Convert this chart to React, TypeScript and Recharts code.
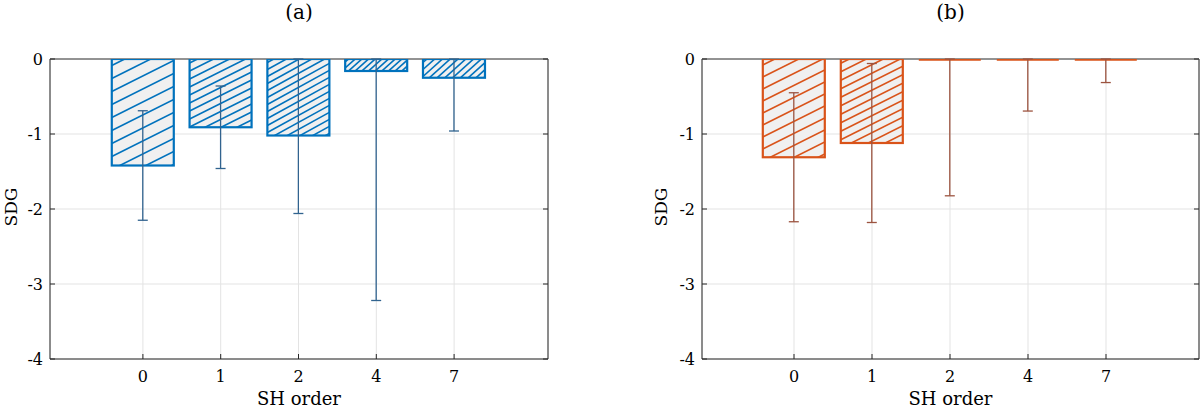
import React from 'react';
import { BarChart, Bar, XAxis, YAxis, CartesianGrid, ErrorBar } from 'recharts';

// ---- data ----
const categories = ['0', '1', '2', '4', '7'];
const sdgA = [-1.42, -0.91, -1.02, -0.16, -0.25];
const errA = [0.73, 0.55, 1.04, 3.06, 0.71];
const sdgB = [-1.31, -1.12, -0.004, -0.004, -0.004];
const errB = [0.86, 1.06, 1.82, 0.69, 0.31];
const yTicks = [-4, -3, -2, -1, 0];

// ---- styles ----
const FONT = "'DejaVu Serif', serif";
const AXIS = '#262626';
const GRID = '#e3e3e3';
const hatchA = { spacing: [13, 8, 7, 6, 7], slope: [0.5, 0.5, 0.55, 0.9, 0.9] };
const hatchB = { spacing: [12, 8.5, 6, 6, 6], slope: [0.5, 0.5, 0.5, 0.5, 0.5] };
const PLOT_TOP = 59;

function buildRows(values: number[], errs: number[]) {
  return categories.map((c, i) => ({
    cat: c,
    value: values[i],
    // upper part of the error bar is clipped at the top of the axes (y = 0)
    err: [errs[i], Math.min(errs[i], -values[i])],
  }));
}

function makeShape(panel: string, color: string, hatch: { spacing: number[]; slope: number[] }) {
  return (p: any) => {
    const i = categories.indexOf(p.payload?.cat);
    const top = Math.min(p.y, p.y + p.height);
    const h = Math.abs(p.height);
    const x = p.x;
    const w = p.width;
    if (!(h > 1)) {
      return <line x1={x} x2={x + w} y1={top + 0.5} y2={top + 0.5} stroke={color} strokeWidth={2.6} />;
    }
    const sp = hatch.spacing[i] ?? 6;
    const s = hatch.slope[i] ?? 0.5;
    const lines: React.ReactNode[] = [];
    let k = 0;
    for (let b = top + sp * 0.5; b < top + h + s * w + sp; b += sp) {
      lines.push(
        <line key={k++} x1={x} y1={b} x2={x + w} y2={b - s * w} stroke={color} strokeWidth={1.6} />
      );
    }
    const id = `clip-${panel}-${i}`;
    return (
      <g>
        <defs>
          <clipPath id={id}>
            <rect x={x} y={top} width={w} height={h} />
          </clipPath>
        </defs>
        <rect x={x} y={top} width={w} height={h} fill="#f0f0f0" />
        <g clipPath={`url(#${id})`}>{lines}</g>
        <rect x={x} y={top} width={w} height={h} fill="none" stroke={color} strokeWidth={2.2} />
      </g>
    );
  };
}

function makeYTick(plotLeft: number, plotRight: number) {
  return (p: any) => (
    <g>
      <line x1={plotLeft} x2={plotLeft + 5} y1={p.y} y2={p.y} stroke={AXIS} />
      <line x1={plotRight - 5} x2={plotRight} y1={p.y} y2={p.y} stroke={AXIS} />
      <text x={plotLeft - 7} y={p.y + 6} textAnchor="end" fontFamily={FONT} fontSize={16} fill="#000">
        {p.payload.value}
      </text>
    </g>
  );
}

function XTick(p: any) {
  return (
    <g>
      <line x1={p.x} x2={p.x} y1={p.y} y2={p.y - 5} stroke={AXIS} />
      <text x={p.x} y={p.y + 23} textAnchor="middle" fontFamily={FONT} fontSize={16} fill="#000">
        {p.payload.value}
      </text>
    </g>
  );
}

function GridH(p: any) {
  const isTop = Math.abs(p.y1 - PLOT_TOP) < 1.5;
  return (
    <line
      key={p.key}
      x1={p.x1}
      x2={p.x2}
      y1={p.y1}
      y2={p.y2}
      stroke={isTop ? AXIS : GRID}
      strokeWidth={1}
    />
  );
}

type PanelProps = {
  id: string;
  title: string;
  values: number[];
  errs: number[];
  color: string;
  errColor: string;
  hatch: { spacing: number[]; slope: number[] };
  leftW: number;
  rightW: number;
  padL: number;
  padR: number;
  ylabelX: number;
};

function Panel(pp: PanelProps) {
  const W = 600;
  const H = 409;
  const xh = 50;
  const plotLeft = pp.leftW;
  const plotRight = W - pp.rightW;
  const cx = (plotLeft + plotRight) / 2;
  const data = buildRows(pp.values, pp.errs);
  return (
    <BarChart
      width={W}
      height={H}
      data={data}
      margin={{ top: PLOT_TOP, right: 0, bottom: 0, left: 0 }}
      barCategoryGap="10%"
    >
      <CartesianGrid stroke={GRID} strokeWidth={1} horizontal={GridH} />
      <XAxis
        dataKey="cat"
        height={xh}
        padding={{ left: pp.padL, right: pp.padR }}
        tickSize={0}
        tickMargin={0}
        tick={XTick}
        axisLine={{ stroke: AXIS }}
        tickLine={false}
        interval={0}
      />
      <YAxis
        type="number"
        domain={[-4, 0]}
        ticks={yTicks}
        width={pp.leftW}
        tickSize={0}
        tickMargin={0}
        tick={makeYTick(plotLeft, plotRight)}
        tickLine={false}
        axisLine={{ stroke: AXIS }}
        allowDataOverflow
      />
      <YAxis
        yAxisId="right"
        orientation="right"
        type="number"
        domain={[-4, 0]}
        ticks={yTicks}
        width={pp.rightW}
        tick={false}
        tickLine={false}
        axisLine={{ stroke: AXIS }}
      />
      <Bar dataKey="value" isAnimationActive={false} shape={makeShape(pp.id, pp.color, pp.hatch)}>
        <ErrorBar dataKey="err" width={5} stroke={pp.errColor} strokeWidth={1.3} direction="y" />
      </Bar>
      <text x={cx} y={19} textAnchor="middle" fontFamily={FONT} fontSize={20} fill="#000">
        {pp.title}
      </text>
      <text
        x={pp.ylabelX}
        y={207}
        textAnchor="middle"
        fontFamily={FONT}
        fontSize={17}
        fill="#000"
        transform={`rotate(-90, ${pp.ylabelX}, 207)`}
      >
        SDG
      </text>
      <text x={cx} y={405} textAnchor="middle" fontFamily={FONT} fontSize={18} fill="#000">
        SH order
      </text>
    </BarChart>
  );
}

export default function App() {
  return (
    <div style={{ position: 'absolute', left: 0, top: 0, width: 1200, height: 409, background: '#fff' }}>
      <div style={{ position: 'absolute', left: 0, top: 0 }}>
        <Panel
          id="a"
          title="(a)"
          values={sdgA}
          errs={errA}
          color="#0072BD"
          errColor="#31638f"
          hatch={hatchA}
          leftW={50}
          rightW={52}
          padL={54}
          padR={55}
          ylabelX={17}
        />
      </div>
      <div style={{ position: 'absolute', left: 600, top: 0 }}>
        <Panel
          id="b"
          title="(b)"
          values={sdgB}
          errs={errB}
          color="#D95319"
          errColor="#9c5440"
          hatch={hatchB}
          leftW={102}
          rightW={1}
          padL={53}
          padR={54}
          ylabelX={67}
        />
      </div>
    </div>
  );
}
